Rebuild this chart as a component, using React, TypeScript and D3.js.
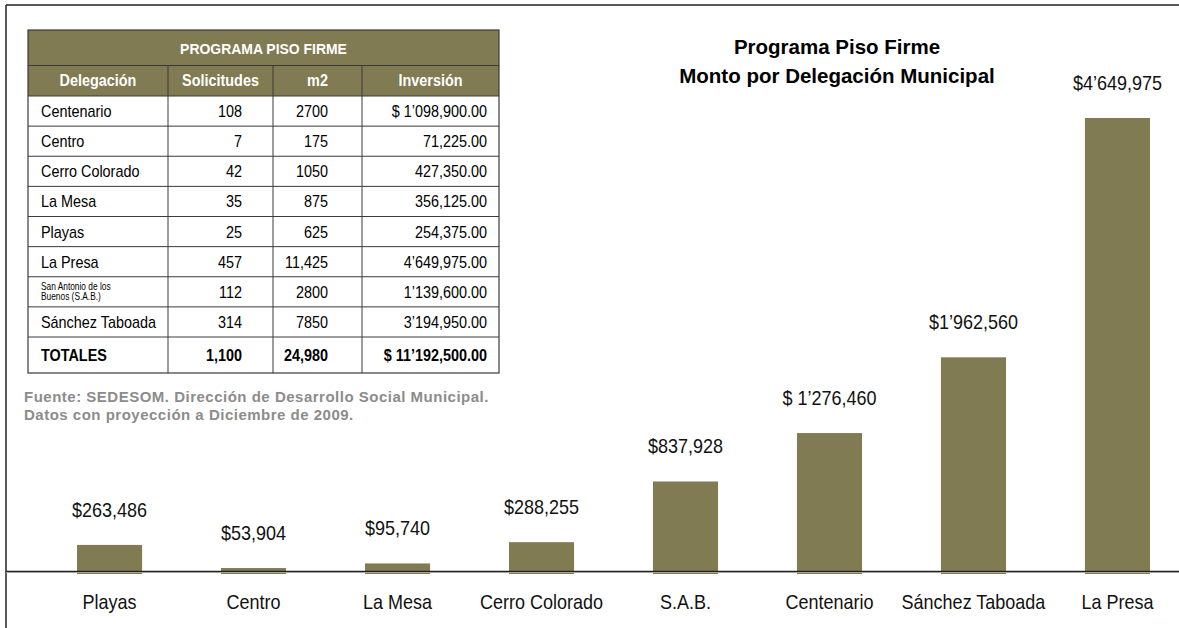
import React from "react";
import * as d3 from "d3";

// bar chart data (order as drawn)
const categories = ["Playas", "Centro", "La Mesa", "Cerro Colorado", "S.A.B.", "Centenario", "Sánchez Taboada", "La Presa"];
const montos = [263486, 53904, 95740, 288255, 837928, 1276460, 1962560, 4649975];
const montoLabels = ["$263,486", "$53,904", "$95,740", "$288,255", "$837,928", "$ 1’276,460", "$1’962,560", "$4’649,975"];

// table data
const tableTitle = "PROGRAMA PISO FIRME";
const tableHeaders = ["Delegación", "Solicitudes", "m2", "Inversión"];
const delegaciones = ["Centenario", "Centro", "Cerro Colorado", "La Mesa", "Playas", "La Presa", "San Antonio de los|Buenos (S.A.B.)", "Sánchez Taboada"];
const solicitudes = [108, 7, 42, 35, 25, 457, 112, 314];
const metros = [2700, 175, 1050, 875, 625, 11425, 2800, 7850];
const inversion = [1098900, 71225, 427350, 356125, 254375, 4649975, 1139600, 3194950];
const totales = { solicitudes: 1100, metros: 24980, inversion: 11192500 };

const W = 1179;
const H = 628;
const FONT = "'Liberation Sans', Arial, Helvetica, sans-serif";
const OLIVE = "#807b52";
const SQUEEZE = 0.9; // the original uses a slightly condensed sans

// the tallest bar is cut at the top of the plot in the original
const yCap = 4.13e6;

function money(v: number, dec = 2) {
  const m = Math.floor(v / 1e6);
  const rest = v - m * 1e6;
  if (m === 0) return d3.format(`,.${dec}f`)(v);
  const th = Math.floor(rest / 1000);
  const un = rest - th * 1000;
  const tail = dec ? "." + (0).toFixed(dec).slice(2) : "";
  return `${m}’${String(th).padStart(3, "0")},${String(Math.round(un)).padStart(3, "0")}${tail}`;
}

function fmtM2(v: number) {
  return v >= 10000 ? d3.format(",")(v) : String(v);
}

// text drawn with a horizontal squeeze
function T(props: { x: number; y: number; sx?: number; anchor?: string; size: number; bold?: boolean; fill?: string; children: React.ReactNode }) {
  const { x, y, sx = SQUEEZE, anchor = "start", size, bold, fill = "#000", children } = props;
  return (
    <text transform={`translate(${x},${y}) scale(${sx},1)`} textAnchor={anchor} fontSize={size}
      fontWeight={bold ? "bold" : "normal"} fill={fill}>{children}</text>
  );
}

function Table() {
  const cols = [28, 168, 273, 362, 499];
  const rowsTop = 96;
  const rowsBottom = 337;
  const totBottom = 373;
  const y = d3.scaleBand<number>().domain(d3.range(delegaciones.length)).range([rowsTop, rowsBottom]);
  const lineColor = "#3a3a3a";
  const fs = 16;
  const totY = (rowsBottom + totBottom) / 2 + 6;
  return (
    <g fontFamily={FONT}>
      <rect x={cols[0]} y={30} width={cols[4] - cols[0]} height={rowsTop - 30} fill={OLIVE} />
      <T x={(cols[0] + cols[4]) / 2} y={54} anchor="middle" fill="#fff" bold size={15.5}>{tableTitle}</T>
      {tableHeaders.map((h, i) => (
        <T key={h} x={(cols[i] + cols[i + 1]) / 2} y={86} anchor="middle" fill="#fff" bold size={fs}>{h}</T>
      ))}
      {/* grid */}
      <rect x={cols[0]} y={30} width={cols[4] - cols[0]} height={totBottom - 30} fill="none" stroke={lineColor} strokeWidth={1.2} />
      <line x1={cols[0]} x2={cols[4]} y1={65.5} y2={65.5} stroke={lineColor} strokeWidth={1} />
      {cols.slice(1, 4).map((c) => (
        <line key={c} x1={c} x2={c} y1={65.5} y2={totBottom} stroke={lineColor} strokeWidth={1} />
      ))}
      {d3.range(delegaciones.length + 1).map((i) => (
        <line key={i} x1={cols[0]} x2={cols[4]} y1={rowsTop + i * y.step()} y2={rowsTop + i * y.step()} stroke={lineColor} strokeWidth={1} />
      ))}
      {delegaciones.map((d, i) => {
        const cy = (y(i) as number) + y.bandwidth() / 2;
        const parts = d.split("|");
        return (
          <g key={d}>
            {parts.length > 1 ? (
              parts.map((p, j) => (
                <T key={p} x={41} y={cy - 2 + j * 10.5} size={11} sx={0.76}>{p}</T>
              ))
            ) : (
              <T x={41} y={cy + 6} size={fs}>{d}</T>
            )}
            <T x={242} y={cy + 6} size={fs} anchor="end">{solicitudes[i]}</T>
            <T x={328} y={cy + 6} size={fs} anchor="end">{fmtM2(metros[i])}</T>
            <T x={487} y={cy + 6} size={fs} anchor="end">{(i === 0 ? "$ " : "") + money(inversion[i])}</T>
          </g>
        );
      })}
      <T x={41} y={totY} size={fs} bold>TOTALES</T>
      <T x={242} y={totY} size={fs} bold anchor="end">{d3.format(",")(totales.solicitudes)}</T>
      <T x={328} y={totY} size={fs} bold anchor="end">{d3.format(",")(totales.metros)}</T>
      <T x={487} y={totY} size={fs} bold anchor="end">{"$ " + money(totales.inversion)}</T>
      <g fill="#8c8c8c" fontWeight="bold" fontSize={15} letterSpacing={0.5}>
        <text x={24} y={402}>Fuente: SEDESOM. Dirección de Desarrollo Social Municipal.</text>
        <text x={24} y={420}>Datos con proyección a Diciembre de 2009.</text>
      </g>
    </g>
  );
}

export default function App() {
  const baseY = 574;
  const axisY = 571.5;
  const x = d3.scaleBand<string>().domain(categories).range([77, 1150]).paddingInner(0.548).paddingOuter(0);
  const y = d3.scaleLinear().domain([0, yCap]).range([baseY, 118]).clamp(true);
  const cx = (c: string) => (x(c) as number) + x.bandwidth() / 2;

  return (
    <svg width={W} height={H} style={{ position: "absolute", left: 0, top: 0, background: "#fff" }}>
      <rect width={W} height={H} fill="#fff" />
      {/* frame */}
      <line x1={6} x2={W} y1={5} y2={5} stroke="#222" strokeWidth={1.5} />
      <line x1={6} x2={6} y1={5} y2={H} stroke="#222" strokeWidth={1.5} />

      <Table />

      <g fontFamily={FONT} fontWeight="bold" fontSize={20.5} textAnchor="middle" fill="#000">
        <text x={837} y={54}>Programa Piso Firme</text>
        <text x={837} y={83}>Monto por Delegación Municipal</text>
      </g>

      <g>
        {categories.map((c, i) => (
          <rect key={c} x={x(c)} y={y(montos[i])} width={x.bandwidth()} height={baseY - y(montos[i])} fill={OLIVE} />
        ))}
      </g>
      <line x1={6} x2={W} y1={axisY + 1} y2={axisY + 1} stroke="#cfcfcf" strokeWidth={1} />
      <line x1={6} x2={W} y1={axisY} y2={axisY} stroke="#222" strokeWidth={1.3} />

      <g fontFamily={FONT}>
        {categories.map((c, i) => (
          <T key={c} x={cx(c)} y={y(montos[i]) - 28} anchor="middle" size={20} fill="#111">{montoLabels[i]}</T>
        ))}
        {categories.map((c) => (
          <T key={c} x={cx(c)} y={608.5} anchor="middle" size={20} fill="#111">{c}</T>
        ))}
      </g>
    </svg>
  );
}
